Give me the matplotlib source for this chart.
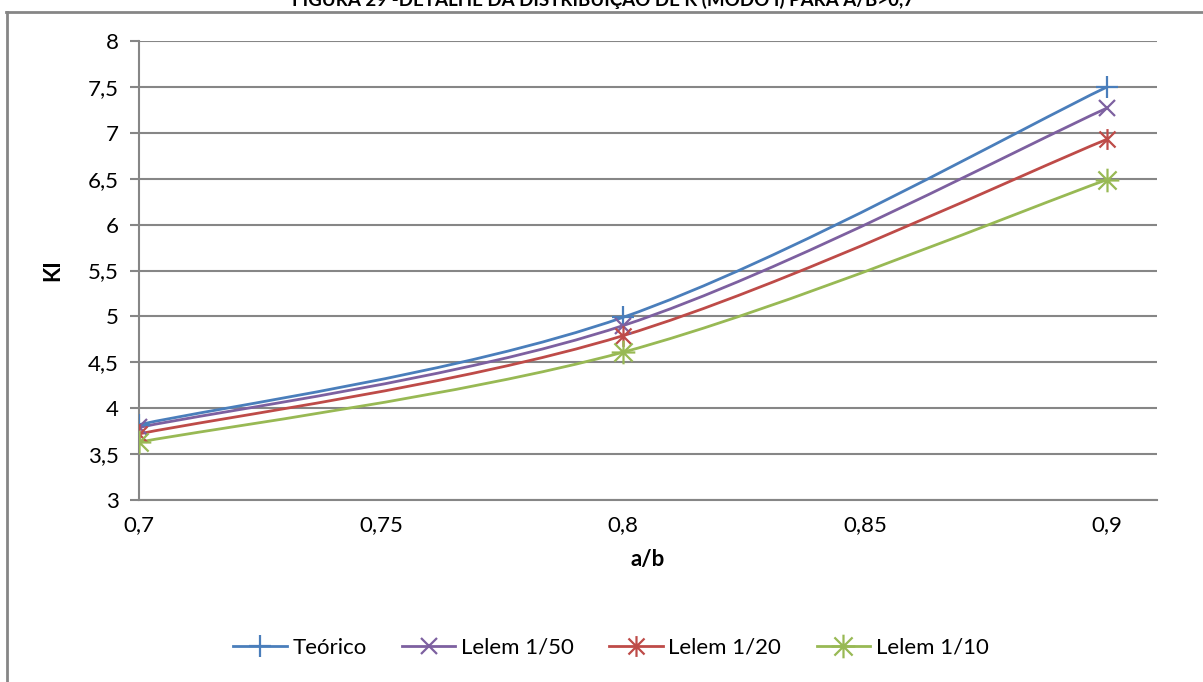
import numpy as np
import matplotlib
matplotlib.use("Agg")
import matplotlib.pyplot as plt
from matplotlib.path import Path
from matplotlib.patches import PathPatch
from matplotlib.lines import Line2D

plt.rcParams['font.family'] = ['Lato', 'DejaVu Sans']

# ---- data ----
a_b = [0.7, 0.8, 0.9]
teorico = [3.82, 4.99, 7.50]
lelem_50 = [3.79, 4.90, 7.27]
lelem_20 = [3.72, 4.79, 6.93]
lelem_10 = [3.63, 4.61, 6.49]
series_names = ["Teórico", "Lelem 1/50", "Lelem 1/20", "Lelem 1/10"]
x_ticks = [0.7, 0.75, 0.8, 0.85, 0.9]
x_ticklabels = ["0,7", "0,75", "0,8", "0,85", "0,9"]
y_ticks = [3, 3.5, 4, 4.5, 5, 5.5, 6, 6.5, 7, 7.5, 8]
y_ticklabels = ["3", "3,5", "4", "4,5", "5", "5,5", "6", "6,5", "7", "7,5", "8"]
title = "FIGURA 29 -DETALHE DA DISTRIBUIÇÃO DE K (MODO I) PARA A/B>0,7"

colors = ["#4A7EBB", "#7D60A0", "#BE4B48", "#98B954"]

# custom markers
star6 = Path([(-1, -1), (1, 1), (-1, 1), (1, -1), (0, -1.3), (0, 1.3)],
             [Path.MOVETO, Path.LINETO, Path.MOVETO, Path.LINETO, Path.MOVETO, Path.LINETO])
star8 = Path([(-1, -1), (1, 1), (-1, 1), (1, -1), (0, -1.3), (0, 1.3), (-1.3, 0), (1.3, 0)],
             [Path.MOVETO, Path.LINETO, Path.MOVETO, Path.LINETO, Path.MOVETO, Path.LINETO,
              Path.MOVETO, Path.LINETO])
markers = ["+", "x", star6, star8]
msizes = [16, 11, 15, 17]

W, H = 1203, 682
fig = plt.figure(figsize=(W / 100, H / 100), dpi=100)
ax = fig.add_axes([139 / W, 1 - 500 / H, (1157 - 139) / W, (500 - 41) / H])


def smooth_path(xs, ys):
    pts = np.column_stack([xs, ys]).astype(float)
    n = len(pts)
    verts = [pts[0]]
    codes = [Path.MOVETO]
    for i in range(n - 1):
        p0 = pts[i - 1] if i > 0 else pts[i]
        p1 = pts[i]
        p2 = pts[i + 1]
        p3 = pts[i + 2] if i + 2 < n else pts[i + 1]
        c1 = p1 + (p2 - p0) / 6.0
        c2 = p2 - (p3 - p1) / 6.0
        verts += [c1, c2, p2]
        codes += [Path.CURVE4] * 3
    return Path(verts, codes)


all_series = [teorico, lelem_50, lelem_20, lelem_10]
handles = []
for ys, name, c, m, ms in zip(all_series, series_names, colors, markers, msizes):
    patch = PathPatch(smooth_path(a_b, ys), facecolor="none", edgecolor=c, lw=2.0, zorder=3)
    ax.add_patch(patch)
    ax.plot(a_b, ys, linestyle="none", marker=m, markersize=ms, markeredgewidth=1.6,
            color=c, zorder=4)
    handles.append(Line2D([], [], color=c, lw=2.0, marker=m, markersize=ms,
                          markeredgewidth=1.6, label=name))

ax.set_xlim(0.7, 0.9103)
ax.set_ylim(3, 8)
ax.set_xticks(x_ticks)
ax.set_xticklabels(x_ticklabels)
ax.set_xticks([x_ticks[0]], minor=True)
ax.set_yticks(y_ticks)
ax.set_yticklabels(y_ticklabels)
ax.grid(axis="y", color="#868686", lw=1.5, zorder=1)
ax.set_axisbelow(True)
for s in ["top", "right"]:
    ax.spines[s].set_visible(False)
for s in ["left", "bottom"]:
    ax.spines[s].set_color("#868686")
    ax.spines[s].set_linewidth(1.5)
ax.tick_params(axis="y", direction="out", length=6.5, width=1.5, color="#868686",
               labelsize=16, pad=8)
ax.tick_params(axis="x", which="major", direction="out", length=0, labelsize=16, pad=11)
ax.tick_params(axis="x", which="minor", direction="out", length=6.5, width=1.5,
               color="#868686")
ax.set_xlabel("a/b", fontsize=16, fontweight="bold", labelpad=10)
ax.set_ylabel("KI", fontsize=16, fontweight="bold", labelpad=18)

fig.legend(handles=handles, loc="center", bbox_to_anchor=(611 / W, 1 - 648 / H),
           ncol=4, frameon=False, fontsize=16, handlelength=2.4, columnspacing=1.6,
           handletextpad=0.25)

fig.text(603 / W, 1 + 1 / H, title, ha="center", va="center", fontsize=13.5,
         fontweight="bold")

fig.add_artist(Line2D([6.5 / W, 6.5 / W], [1 - 11.5 / H, 0], transform=fig.transFigure,
                      color="#868686", lw=2))
fig.add_artist(Line2D([6 / W, 1202 / W], [1 - 11.5 / H, 1 - 11.5 / H],
                      transform=fig.transFigure, color="#868686", lw=2))

fig.savefig("out.png", dpi=100)
